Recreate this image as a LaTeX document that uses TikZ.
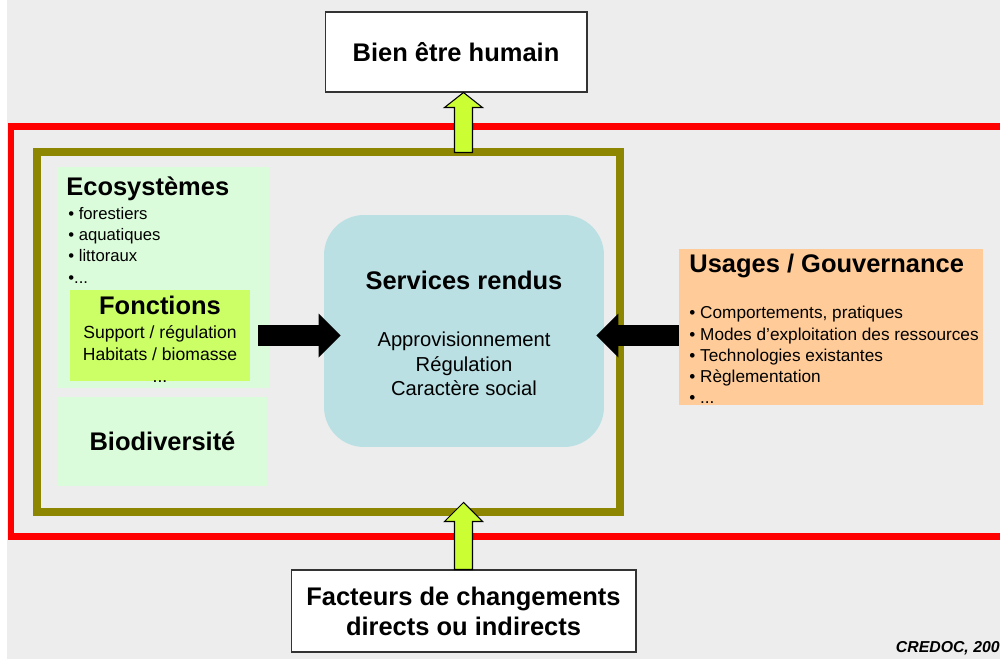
\documentclass[tikz,border=0pt]{standalone}
\usepackage{fontspec}
\setmainfont{Liberation Sans}
\usetikzlibrary{positioning,arrows.meta}
\definecolor{fond}{HTML}{EDEDED}
\definecolor{vertpale}{HTML}{DBFCDB}
\definecolor{vertjaune}{HTML}{CCFF66}
\definecolor{bleuserv}{HTML}{BAE0E4}
\definecolor{orangeus}{HTML}{FFCC99}
\definecolor{jaunefl}{HTML}{CCFF33}
\begin{document}
\begin{tikzpicture}[x=0.02cm, y=-0.02cm,
  box/.style = {draw=black!80, fill=white, line width=0.6pt, align=center, font=\bfseries\fontsize{14.5}{17}\selectfont},
  zone/.style = {fill=vertpale, inner sep=0},
  titre/.style = {inner sep=0, font=\bfseries\fontsize{14.5}{17}\selectfont},
  liste/.style = {inner sep=0, align=left, font=\fontsize{9.8}{12.1}\selectfont},
  plein/.style = {line width=0.42cm, -{Triangle[length=0.44cm, width=0.88cm, line width=0pt]}},
  jaune/.style = {draw=black, fill=jaunefl, line width=0.6pt, line join=miter}]
\useasboundingbox (0,0) rectangle (1000,659);
\fill[fond] (7,0) rectangle (1000,659);
% cadres
\draw[red, line width=0.14cm] (11,126) rectangle (1030,536);
\draw[olive, line width=0.16cm] (37,152) rectangle (620,512);
% boites
\node[box, minimum width=5.24cm, minimum height=1.6cm] (bien) at (456,52) {Bien être humain};
\node[box, minimum width=6.9cm, minimum height=1.64cm] (fact) at (463.5,611) {Facteurs de changements\\directs ou indirects};
\node[zone, minimum width=4.24cm, minimum height=4.42cm] (eco) at (163,277.5) {};
\node[titre, anchor=west] (ecot) at (66,189) {Ecosystèmes};
\node[liste, anchor=north west, font=\fontsize{9.5}{12.1}\selectfont] (ecol) at (68,207) {• forestiers\\• aquatiques\\• littoraux\\•...};
\node[fill=vertjaune, inner sep=0, minimum width=3.6cm, minimum height=1.82cm] (fonc) at (160,335.5) {};
\node[titre] (fonct) at (160,305) {Fonctions};
\node[liste, align=center, font=\fontsize{10}{12.7}\selectfont] (foncl) at (160,354) {Support / régulation\\Habitats / biomasse\\...};
\node[zone, titre, fill=vertpale, minimum width=4.18cm, minimum height=1.78cm] (bio) at (162.5,441.5) {Biodiversité};
\node[fill=bleuserv, rounded corners=0.8cm, minimum width=5.6cm, minimum height=4.64cm] (serv) at (464,331) {};
\node[titre] (servt) at (464,280) {Services rendus};
\node[liste, align=center, font=\fontsize{11.5}{13.8}\selectfont] (servl) at (464,364) {Approvisionnement\\Régulation\\Caractère social};
\node[fill=orangeus, inner sep=0, minimum width=6.08cm, minimum height=3.12cm] (usag) at (831,327) {};
\node[titre, anchor=west] (usagt) at (689,266) {Usages / Gouvernance};
\node[liste, anchor=north west] (usagl) at (689,306) {• Comportements, pratiques\\• Modes d’exploitation des ressources\\• Technologies existantes\\• Règlementation\\• ...};
\node[anchor=east, inner sep=0, font=\bfseries\itshape\fontsize{9}{10}\selectfont] (src) at (1000,648) {CREDOC, 200};
% fleches
\draw[plein] ([xshift=0.16cm]fonc.east) -- ([xshift=0.34cm]fonc.east -| serv.west);
\draw[plein] (usag.west |- fonc.east) -- ([xshift=-0.16cm]serv.east |- fonc.east);
\draw[jaune] (bien.south -| fact.north) -- ++(19,15) -- ++(-10,0) -- ++(0,45) -- ++(-18,0) -- ++(0,-45) -- ++(-10,0) -- cycle;
\draw[jaune] (fact.north) ++(9,0) -- ++(0,-48) -- ++(10,0) -- ++(-19,-19) -- ++(-19,19) -- ++(10,0) -- ++(0,48) -- cycle;
\end{tikzpicture}
\end{document}
